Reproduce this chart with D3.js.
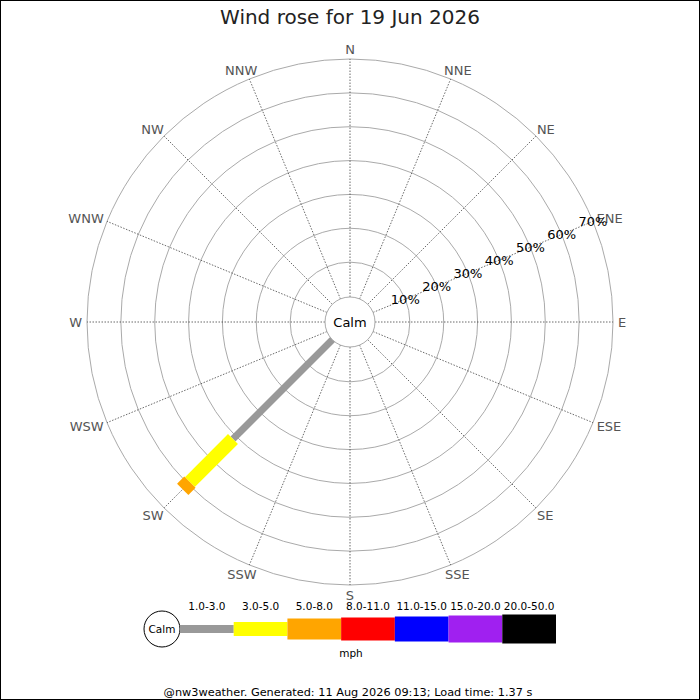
<!DOCTYPE html>
<html>
<head>
<meta charset="utf-8">
<script src="https://cdn.jsdelivr.net/npm/d3@7"></script>
<style>
  body { margin: 0; background: #fff; }
  svg { display: block; font-family: "DejaVu Sans", sans-serif; }
</style>
</head>
<body>
<div id="chart"></div>
<script>
// --- Data ---
const title = "Wind rose for 19 Jun 2026";
const footer = "@nw3weather. Generated: 11 Aug 2026 09:13; Load time: 1.37 s";
const directions = ["N", "NNE", "NE", "ENE", "E", "ESE", "SE", "SSE",
                    "S", "SSW", "SW", "WSW", "W", "WNW", "NW", "NNW"];
const ringTicks = [10, 20, 30, 40, 50, 60, 70];
const speedRanges = ["1.0-3.0", "3.0-5.0", "5.0-8.0", "8.0-11.0", "11.0-15.0", "15.0-20.0", "20.0-50.0"];
const rangeColors = ["#999999", "#ffff00", "#ffa500", "#ff0000", "#0000ff", "#a020f0", "#000000"];
const windDirs = ["SW"];
const windPercents = [[41.2, 18.0, 3.0]]; // % per speed range, per direction
const speedUnit = "mph";

// --- Layout ---
const W = 700, H = 700;
const cx = 350, cy = 322;
const calmR = 25;
const roseBarWidths = [7, 14, 16, 18, 20, 22, 24];
const legendBarHeights = [8, 14, 21, 23, 25, 27, 29];

const svg = d3.select("#chart").append("svg")
  .attr("width", W).attr("height", H);

svg.append("rect")
  .attr("x", 0.5).attr("y", 0.5).attr("width", W - 1).attr("height", H - 1)
  .attr("fill", "#fff").attr("stroke", "#000");

svg.append("text")
  .attr("x", cx).attr("y", 24)
  .attr("text-anchor", "middle")
  .style("font-size", "20px").style("fill", "#222")
  .text(title);

const r = d3.scaleLinear().domain([0, 70]).range([26, 263]);
const angle = d3.scalePoint().domain(directions).range([0, 360 - 22.5]);
const rad = d => angle(d) * Math.PI / 180;
const px = (d, rr) => cx + rr * Math.sin(rad(d));
const py = (d, rr) => cy - rr * Math.cos(rad(d));

// rings
svg.append("g").selectAll("circle")
  .data(ringTicks).enter().append("circle")
  .attr("cx", cx).attr("cy", cy).attr("r", d => r(d))
  .attr("fill", "none").attr("stroke", "#aaa").attr("stroke-width", 1);

// spokes
svg.append("g").selectAll("line")
  .data(directions).enter().append("line")
  .attr("x1", d => px(d, calmR)).attr("y1", d => py(d, calmR))
  .attr("x2", d => px(d, r(70))).attr("y2", d => py(d, r(70)))
  .attr("stroke", "#444").attr("stroke-width", 0.8)
  .attr("stroke-dasharray", "1.5,1.5");

// direction labels, placed just outside the outer ring
const dirG = svg.append("g");
directions.forEach(d => {
  const t = dirG.append("text")
    .style("font-size", "13px").style("fill", "#555")
    .attr("text-anchor", "middle")
    .text(d);
  const w = t.node().getComputedTextLength();
  const h = 10, gap = 5;
  const ux = Math.sin(rad(d)), uy = -Math.cos(rad(d));
  const x = px(d, r(70)) + ux * (gap + w / 2);
  const y = py(d, r(70)) + uy * (gap + h / 2);
  t.attr("x", x).attr("y", y + h / 2);
});

// wind bars
const barG = svg.append("g");
windDirs.forEach((d, di) => {
  let cum = 0;
  windPercents[di].forEach((v, i) => {
    const r0 = i === 0 ? calmR - 1 : r(cum);
    cum += v;
    const r1 = r(cum);
    barG.append("line")
      .attr("x1", px(d, r0)).attr("y1", py(d, r0))
      .attr("x2", px(d, r1)).attr("y2", py(d, r1))
      .attr("stroke", rangeColors[i])
      .attr("stroke-width", roseBarWidths[i]);
  });
});

// calm circle
svg.append("circle")
  .attr("cx", cx).attr("cy", cy).attr("r", calmR)
  .attr("fill", "#fff").attr("stroke", "#aaa");
svg.append("text")
  .attr("x", cx).attr("y", cy).attr("dy", "0.35em")
  .attr("text-anchor", "middle")
  .style("font-size", "13px").style("fill", "#000")
  .text("Calm");

// ring labels along ENE
svg.append("g").selectAll("text")
  .data(ringTicks).enter().append("text")
  .attr("x", d => px("ENE", r(d))).attr("y", d => py("ENE", r(d)))
  .attr("dy", "0.35em")
  .attr("text-anchor", "middle")
  .style("font-size", "13px").style("fill", "#000")
  .text(d => d + "%");

// --- Legend ---
const legY = 629;
const lx = d3.scaleBand().domain(speedRanges).range([180, 556]);
const leg = svg.append("g");

leg.append("circle")
  .attr("cx", 162).attr("cy", legY).attr("r", 18)
  .attr("fill", "#fff").attr("stroke", "#000");
leg.append("text")
  .attr("x", 162).attr("y", legY).attr("dy", "0.35em")
  .attr("text-anchor", "middle")
  .style("font-size", "10.5px")
  .text("Calm");

leg.selectAll("rect.seg")
  .data(speedRanges).enter().append("rect")
  .attr("class", "seg")
  .attr("x", d => lx(d)).attr("width", lx.bandwidth())
  .attr("y", (d, i) => legY - legendBarHeights[i] / 2)
  .attr("height", (d, i) => legendBarHeights[i])
  .attr("fill", (d, i) => rangeColors[i]);

leg.selectAll("text.lab")
  .data(speedRanges).enter().append("text")
  .attr("class", "lab")
  .attr("x", d => lx(d) + lx.bandwidth() / 2).attr("y", 610)
  .attr("text-anchor", "middle")
  .style("font-size", "10.5px").style("fill", "#000")
  .text(d => d);

leg.append("text")
  .attr("x", 351).attr("y", 657)
  .attr("text-anchor", "middle")
  .style("font-size", "10.5px")
  .text(speedUnit);

svg.append("text")
  .attr("x", 348).attr("y", 696)
  .attr("text-anchor", "middle")
  .style("font-size", "11.3px").style("fill", "#000")
  .text(footer);
</script>
</body>
</html>
